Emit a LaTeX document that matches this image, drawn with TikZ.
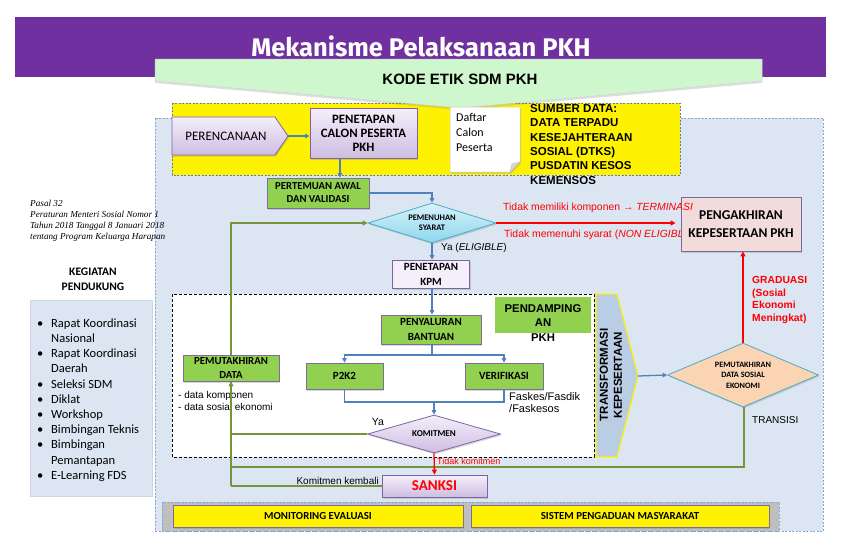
\documentclass[tikz,border=0pt]{standalone}
\usepackage{fontspec}
\setmainfont{Carlito}
\newfontfamily\arial{Liberation Sans}
\newfontfamily\fira{Fira Sans}
\newfontfamily\tnr{Liberation Serif}
\usetikzlibrary{shapes.geometric,arrows.meta,shadows}

\definecolor{banner}{RGB}{112,48,160}
\definecolor{mint}{RGB}{206,247,206}
\definecolor{panel}{RGB}{220,230,242}
\definecolor{gbox}{RGB}{146,208,80}
\definecolor{pborder}{RGB}{128,100,162}
\definecolor{blueln}{RGB}{79,129,189}
\definecolor{greenln}{RGB}{119,147,60}
\definecolor{pinkbox}{RGB}{242,220,219}
\definecolor{cyanb}{RGB}{75,172,198}
\definecolor{cyanT}{RGB}{215,242,250}
\definecolor{cyanB}{RGB}{140,214,238}
\definecolor{peach}{RGB}{251,212,180}
\definecolor{steel}{RGB}{185,205,229}
\definecolor{grayb}{RGB}{191,191,191}
\definecolor{lpurpleT}{RGB}{244,239,250}
\definecolor{lpurpleB}{RGB}{206,189,226}

\begin{document}
\begin{tikzpicture}[x=1pt,y=-1pt,
  shd/.style={drop shadow={opacity=0.3,shadow xshift=1.2pt,shadow yshift=-1.5pt}},
  gbx/.style={draw=pborder!70!gray, line width=0.8pt, fill=gbox, inner sep=0pt, align=center, shd},
  pfill/.style={draw=pborder, line width=0.8pt, top color=lpurpleT, bottom color=lpurpleB, shd},
  pbx/.style={pfill, inner sep=0pt, align=center},
  bl/.style={draw=blueln, line width=1.3pt, -{Triangle[length=4.5pt,width=4.5pt]}},
  blnoarr/.style={draw=blueln, line width=1.3pt},
  gl/.style={draw=greenln, line width=1.5pt},
  gla/.style={gl, -{Triangle[length=5pt,width=5pt]}},
  rd/.style={draw=red, line width=1.3pt, -{Triangle[length=5pt,width=5pt]}},
  lbl/.style={inner sep=0pt},
  dsh/.style={dash pattern=on 2pt off 1.5pt}
]
\useasboundingbox (0,0) rectangle (841,552);
\fill[white] (0,0) rectangle (841,552);

% banner
\fill[banner] (15,17) rectangle (826,77);
\node[text=white, font=\fira\bfseries\fontsize{25.5}{28}\selectfont] (title) at (421,46) {Mekanisme Pelaksanaan PKH};

% main panel
\draw[draw=blueln!70, fill=panel, dsh, line width=0.7pt] (155,118) rectangle (823,531);

% yellow source box
\draw[fill=yellow, draw=blueln!60!gray, dsh, line width=0.7pt] (172,103) rectangle (680,175);

% chevron
\path[fill=mint, draw=gray!35, line width=0.5pt, drop shadow={opacity=0.25,shadow xshift=0pt,shadow yshift=-2pt}]
  (155,59) -- (762,59) -- (762,81) -- (460,108) -- (155,81) -- cycle;
\node[font=\arial\bfseries\fontsize{15}{18}\selectfont] (kode) at (460,79) {KODE ETIK SDM PKH};

% bottom gray box
\draw[fill=grayb, draw=blueln!70, dsh, line width=0.7pt] (162,502) rectangle (779,531);

% white dashed box
\draw[fill=white, draw=black, dash pattern=on 3pt off 2pt, line width=0.8pt] (172,294) rectangle (594,457);

% left side
\node[anchor=north west, lbl, align=left, font=\tnr\itshape\fontsize{9.2}{11.2}\selectfont] (pasal) at (30,199.5)
 {Pasal 32\\Peraturan Menteri Sosial Nomor 1\\Tahun 2018 Tanggal 8 Januari 2018\\tentang Program Keluarga Harapan};
\node[font=\bfseries\fontsize{11.5}{15}\selectfont, align=center] (keg) at (93,279.5) {KEGIATAN\\PENDUKUNG};
\draw[fill=panel, draw=panel!85!gray, line width=0.6pt] (30,300) rectangle (152,496);
\node[anchor=north west, lbl, font=\fontsize{12.5}{15.2}\selectfont] (list) at (37,316.4)
 {\begin{tabular}{@{}p{14pt}@{}l@{}}
 \textbullet & Rapat Koordinasi\\
  & Nasional\\
 \textbullet & Rapat Koordinasi\\
  & Daerah\\
 \textbullet & Seleksi SDM\\
 \textbullet & Diklat\\
 \textbullet & Workshop\\
 \textbullet & Bimbingan Teknis\\
 \textbullet & Bimbingan\\
  & Pemantapan\\
 \textbullet & E-Learning FDS
 \end{tabular}};

% junction coordinates
\coordinate (jKom) at (231,434);
\coordinate (jTr) at (231,467);
\coordinate (jSan) at (231,486);

% top row
\path[pfill] (172,117) -- (275,117) -- (288,136) -- (275,155) -- (172,155) -- cycle;
\node[font=\fontsize{13}{15}\selectfont] (peren) at (226,136) {PERENCANAAN};
\coordinate (perenTip) at (288,136);
\node[pbx, minimum width=107, minimum height=50, font=\bfseries\fontsize{12.8}{14}\selectfont] (pcalon) at (363.5,133) {PENETAPAN\\CALON PESERTA\\PKH};

\path[fill=white, draw=gray!45, line width=0.5pt, shd] (450,107) -- (520,107) -- (520,162) -- (510,172) -- (450,172) -- cycle;
\path[fill=gray!30, draw=gray!50, line width=0.4pt] (520,162) -- (510,172) -- (512,164) -- cycle;
\node[anchor=north west, lbl, align=left, font=\fontsize{12}{15.2}\selectfont] (daftar) at (456,113) {Daftar\\Calon\\Peserta};

\node[anchor=north west, lbl, align=left, font=\arial\bfseries\fontsize{11.5}{14.4}\selectfont] (sumber) at (530,104)
 {SUMBER DATA:\\DATA TERPADU\\KESEJAHTERAAN\\SOSIAL (DTKS)\\PUSDATIN KESOS\\KEMENSOS};

\node[gbx, minimum width=102, minimum height=30, font=\bfseries\fontsize{10.7}{13}\selectfont] (pertemuan) at (318,193) {PERTEMUAN AWAL\\DAN VALIDASI};

\node[diamond, draw=cyanb, line width=0.8pt, top color=cyanT, bottom color=cyanB, minimum width=128, minimum height=40, inner sep=0pt, shd] (pemenuhan) at (432,223) {};
\node[font=\bfseries\fontsize{8.5}{10}\selectfont, align=center] (pemenuhanT) at (pemenuhan) {PEMENUHAN\\SYARAT};

% red label behind the box
\node[anchor=west, lbl, text=red, font=\arial\fontsize{10.4}{12}\selectfont] (nonel) at (504,234.5) {Tidak memenuhi syarat (\textit{NON ELIGIBLE})};

\node[draw=pborder, fill=pinkbox, line width=0.8pt, minimum width=120, minimum height=54, inner sep=0pt, align=center, font=\bfseries\fontsize{13.5}{17.5}\selectfont, shd] (pengakhiran) at (741,224) {PENGAKHIRAN\\KEPESERTAAN PKH};

% red label over the box
\node[anchor=west, lbl, text=red, font=\arial\fontsize{10.4}{12}\selectfont] (term) at (503,207.5) {Tidak memiliki komponen → \textit{TERMINASI}};

\node[anchor=west, lbl, font=\arial\fontsize{10}{12}\selectfont] (yael) at (441,248) {Ya (\textit{ELIGIBLE})};

\node[draw=pborder, fill=lpurpleT, line width=0.8pt, minimum width=77, minimum height=28, inner sep=0pt, align=center, font=\bfseries\fontsize{11}{15}\selectfont, shd] (kpm) at (431,274) {PENETAPAN\\KPM};

% inside dashed box
\node[gbx, minimum width=100, minimum height=29, font=\bfseries\fontsize{11}{15}\selectfont] (penyaluran) at (431,329.5) {PENYALURAN\\BANTUAN};
\node[gbx, minimum width=77, minimum height=26, font=\bfseries\fontsize{11}{13}\selectfont] (p2k2) at (344.5,376) {P2K2};
\node[gbx, minimum width=78, minimum height=26, font=\bfseries\fontsize{11}{13}\selectfont] (verif) at (504,376) {VERIFIKASI};
\node[fill=gbox, minimum width=96, minimum height=36, inner sep=0pt] (pendamp) at (543,315) {};
\node[align=center, font=\arial\bfseries\fontsize{11.3}{14.5}\selectfont] (pendampT) at (543,323) {PENDAMPING\\AN\\PKH};

\node[anchor=north west, lbl, align=left, font=\arial\fontsize{11}{12}\selectfont] (faskes) at (509,392) {Faskes/Fasdik\\/Faskesos};
\node[anchor=north west, lbl, align=left, font=\arial\fontsize{10}{12}\selectfont] (dkomp) at (178,391.5) {- data komponen\\- data sosial ekonomi};

% green connectors
\draw[gl] (pemenuhan.west -| jKom) -- (jSan);
\draw[gl] (jSan) -- (jSan -| 382,0);
\draw[gl] (jTr) -- (jTr -| 744,0) -- (744,407);

\node[gbx, minimum width=96, minimum height=26, font=\bfseries\fontsize{10.8}{14}\selectfont] (pdata) at (231,368) {PEMUTAKHIRAN\\DATA};

\node[diamond, draw=pborder, line width=0.8pt, top color=lpurpleT, bottom color=lpurpleB, minimum width=133, minimum height=38, inner sep=0pt, shd] (komit) at (434,434) {};
\node[font=\bfseries\fontsize{9}{11}\selectfont] (komitT) at (komit) {KOMITMEN};
\node[font=\arial\fontsize{10.5}{12}\selectfont] (ya2) at (378,422) {Ya};

\draw[gl] (komit.west) -- (jKom);
\draw[gla] (jKom) -- (pdata.south);
\draw[gla] (pdata.north) |- (pemenuhan.west);

\node[pbx, minimum width=105, minimum height=22, text=red, font=\bfseries\fontsize{15}{17}\selectfont] (sanksi) at (434.5,486) {SANKSI};
\node[anchor=west, lbl, text=red, font=\arial\fontsize{9}{11}\selectfont] (tkom) at (437,461) {Tidak komitmen};
\node[anchor=east, lbl, font=\arial\fontsize{10}{12}\selectfont] (kemb) at (379,481) {Komitmen kembali};

% transformasi
\path[fill=steel, draw=yellow, line width=1.2pt] (596,294) -- (617,294) -- (638,376) -- (617,457) -- (596,457) -- cycle;
\coordinate (transfTip) at (638,376);
\node[rotate=90, align=center, font=\arial\bfseries\fontsize{11.5}{14}\selectfont] (transfT) at (611,375) {TRANSFORMASI\\KEPESERTAAN};

\node[diamond, draw=cyanb, line width=0.8pt, fill=peach, minimum width=151, minimum height=64, inner sep=0pt, shd] (pdse) at (743,375) {};
\node[align=center, font=\bfseries\fontsize{8.2}{10.5}\selectfont] (pdseT) at (pdse) {PEMUTAKHIRAN\\DATA SOSIAL\\EKONOMI};

\node[anchor=north west, lbl, align=left, text=red, font=\arial\bfseries\fontsize{10.3}{12.7}\selectfont] (grad) at (752,276) {GRADUASI\\(Sosial\\Ekonomi\\Meningkat)};
\node[anchor=west, lbl, font=\arial\fontsize{10}{12}\selectfont] (transisi) at (752,420) {TRANSISI};

% bottom boxes
\node[draw=pborder!70!gray, fill=yellow, line width=0.8pt, minimum width=290, minimum height=22, inner sep=0pt, font=\bfseries\fontsize{10.8}{13}\selectfont, shd] (monev) at (318,516) {MONITORING EVALUASI};
\node[draw=pborder!70!gray, fill=yellow, line width=0.8pt, minimum width=298, minimum height=22, inner sep=0pt, font=\bfseries\fontsize{10.8}{13}\selectfont, shd] (spm) at (620,516) {SISTEM PENGADUAN MASYARAKAT};

% blue connectors
\draw[bl] (perenTip) -- (perenTip -| pcalon.west);
\draw[bl] (pcalon.south -| 340,0) -- (pertemuan.north -| 340,0);
\draw[bl] (pertemuan.east) -| (pemenuhan.north);
\draw[bl] (pemenuhan.south) -- (pemenuhan.south |- kpm.north);
\draw[bl] (kpm.south -| 432,0) -- (penyaluran.north -| 432,0);
\coordinate (split) at (432,355);
\draw[blnoarr] (penyaluran.south -| split) -- (split);
\draw[bl] (split) -| (p2k2.north);
\draw[bl] (split) -| (verif.north);
\coordinate (merge) at (434,402);
\draw[blnoarr] (p2k2.south) |- (merge) -| (verif.south);
\draw[bl] (merge) -- (komit.north);
\draw[bl] (transfTip) -- (pdse.west);

% red connectors
\draw[rd, shorten >=5pt] (pemenuhan.east) -- (pemenuhan.east -| pengakhiran.west);
\draw[rd] (pdse.north) -- (pdse.north |- pengakhiran.south);
\draw[rd] (komit.south) -- (sanksi.north);
\end{tikzpicture}
\end{document}
